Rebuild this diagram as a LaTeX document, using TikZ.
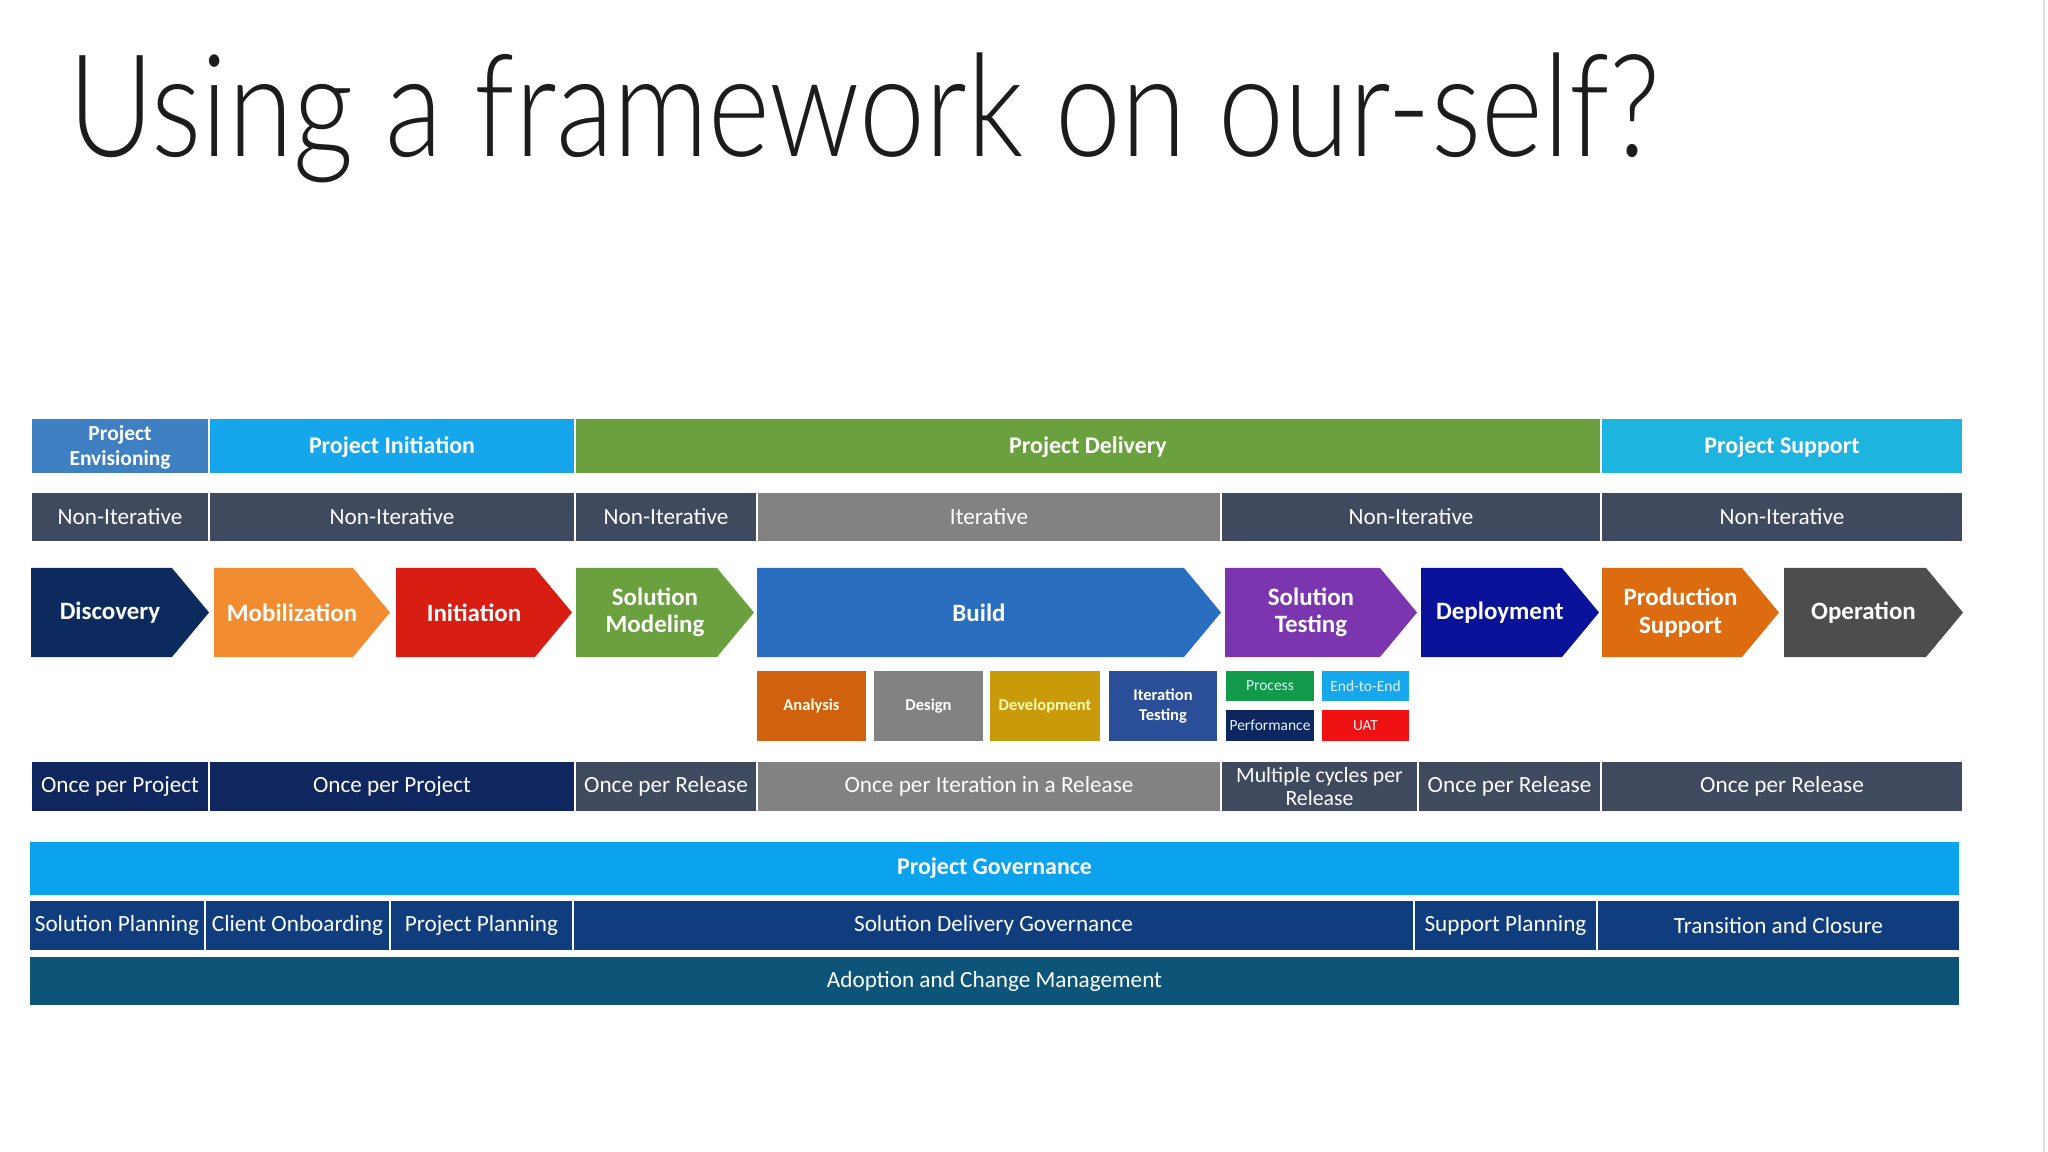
\documentclass[tikz,border=0pt]{standalone}
\usepackage{fontspec}
\setmainfont{Carlito}
\newfontfamily\titlefont{Lato Light}
\usepackage{tikz}
\usetikzlibrary{positioning}
\definecolor{TitleInk}  {HTML}{1C1C1C}
\definecolor{EnvBlue}   {HTML}{3F80C2}
\definecolor{InitBlue}  {HTML}{16A6EC}
\definecolor{DelGreen}  {HTML}{6AA13E}
\definecolor{SupCyan}   {HTML}{1EB4E0}
\definecolor{Slate}     {HTML}{3F4A5F}
\definecolor{IterGray}  {HTML}{828282}
\definecolor{DiscNavy}  {HTML}{0D2A5E}
\definecolor{MobOrange} {HTML}{F28C30}
\definecolor{InitRed}   {HTML}{D81E12}
\definecolor{BuildBlue} {HTML}{2A6FBF}
\definecolor{TestPurple}{HTML}{7A35AF}
\definecolor{DeplBlue}  {HTML}{0A1299}
\definecolor{ProdOrange}{HTML}{DD6B10}
\definecolor{OperGray}  {HTML}{4D4D4D}
\definecolor{AnaOrange} {HTML}{D0620F}
\definecolor{DevGold}   {HTML}{C99A0A}
\definecolor{ItTestBlue}{HTML}{2B4E98}
\definecolor{ProcGreen} {HTML}{129A4A}
\definecolor{EteBlue}   {HTML}{16A8EC}
\definecolor{PerfNavy}  {HTML}{0E2660}
\definecolor{UatRed}    {HTML}{F01212}
\definecolor{OnceNavy}  {HTML}{0F275E}
\definecolor{GovBlue}   {HTML}{0BA3EE}
\definecolor{GovRow}    {HTML}{0F3D7E}
\definecolor{AdoptTeal} {HTML}{0C5578}

\tikzset{
  cell/.style={draw=white, line width=0.6pt},
  bartext/.style={text=white, align=center, inner sep=0pt,
    font=\fontsize{6.6}{7.2}\selectfont},
  hdrtext/.style={bartext, font=\bfseries\fontsize{6.8}{7.4}\selectfont},
  steptext/.style={bartext, font=\bfseries\fontsize{7.1}{7.8}\selectfont},
  subtext/.style={bartext, font=\bfseries\fontsize{4.7}{5.6}\selectfont},
  tinytext/.style={bartext, font=\fontsize{4.4}{5}\selectfont},
}

\begin{document}
\begin{tikzpicture}[x=0.01cm, y=-0.01cm]
      \useasboundingbox (0,0) rectangle (2048,1152);
      \fill[white] (0,0) rectangle (2048,1152);
      \draw[gray!25, line width=0.8pt] (2044,0) -- (2044,1152);
      % ── title ────────────────────────────────────────────────────────────────
      \node[anchor=base west, inner sep=0pt, text=TitleInk] (title) at (68,157)
        {\resizebox*{452.6pt}{37pt}{\titlefont\fontsize{40}{48}\selectfont Using a framework on our-self?}};
      % ── phase header ─────────────────────────────────────────────────────────
      \fill[cell, fill=EnvBlue] (31,418) rectangle (209,474);
      \node[bartext, font=\bfseries\fontsize{6.1}{7.2}\selectfont] (penv)
        at (120,447) {Project\\Envisioning};
      \foreach \xa/\xb/\col/\txt/\nm in {209/575/InitBlue/Project Initiation/pini,
          575/1601/DelGreen/Project Delivery/pdel,
          1601/1963/SupCyan/Project Support/psup} {
        \fill[cell, fill=\col] (\xa,418) rectangle (\xb,474);
        \node[hdrtext] (\nm) at ({(\xa+\xb)/2},447) {\txt};
      }
      % ── iterative / non-iterative row ────────────────────────────────────────
      \foreach \xa/\xb/\col/\txt/\nm in {31/209/Slate/Non-Iterative/mode1,
          209/575/Slate/Non-Iterative/mode2, 575/757/Slate/Non-Iterative/mode3,
          757/1221/IterGray/Iterative/mode4, 1221/1601/Slate/Non-Iterative/mode5,
          1601/1963/Slate/Non-Iterative/mode6} {
        \fill[cell, fill=\col] (\xa,492) rectangle (\xb,542);
        \node[bartext] (\nm) at ({(\xa+\xb)/2},517) {\txt};
      }
      % ── phase chevrons ───────────────────────────────────────────────────────
      \foreach \xa/\xb/\col/\txt/\nm in {31/209/DiscNavy/Discovery/disc,
          214/390/MobOrange/Mobilization/mobi, 396/572/InitRed/Initiation/init,
          576/754/DelGreen/{Solution\\Modeling}/smod, 757/1221/BuildBlue/Build/build,
          1225/1417/TestPurple/{Solution\\Testing}/stest, 1421/1599/DeplBlue/Deployment/depl,
          1602/1779/ProdOrange/{Production\\Support}/prod, 1784/1963/OperGray/Operation/oper} {
        \fill[\col] (\xa,568) -- (\xb-37,568) -- (\xb,612.5) -- (\xb-37,657) -- (\xa,657) -- cycle;
        \node[steptext] (\nm) at ({(\xa+\xb)/2-10},612.5) {\txt};
      }
      % ── build activities ─────────────────────────────────────────────────────
      \foreach \xa/\xb/\col/\ink/\txt/\nm in {757/866/AnaOrange/white!92!yellow/Analysis/ana,
          874/983/IterGray/white/Design/dsgn, 990/1100/DevGold/white!70!yellow/Development/dev,
          1109/1217/ItTestBlue/white/{Iteration\\Testing}/ittest} {
        \fill[\col] (\xa,671) rectangle (\xb,741);
        \node[subtext, text=\ink] (\nm) at ({(\xa+\xb)/2},706) {\txt};
      }
      % ── testing types ────────────────────────────────────────────────────────
      \foreach \xa/\xb/\ya/\yb/\col/\txt/\nm in {1226/1314/671/701/ProcGreen/Process/proc,
          1322/1409/671/701/EteBlue/End-to-End/ete, 1226/1314/710/741/PerfNavy/Performance/perf,
          1322/1409/710/741/UatRed/UAT/uat} {
        \fill[\col] (\xa,\ya) rectangle (\xb,\yb);
        \node[tinytext, text=white!88!cyan] (\nm) at ({(\xa+\xb)/2},{(\ya+\yb)/2}) {\txt};
      }
      % ── frequency row ────────────────────────────────────────────────────────
      \foreach \xa/\xb/\col/\txt/\nm in {31/209/OnceNavy/Once per Project/freq1,
          209/575/OnceNavy/Once per Project/freq2, 575/757/Slate/Once per Release/freq3,
          757/1221/IterGray/Once per Iteration in a Release/freq4,
          1418/1601/Slate/Once per Release/freq6, 1601/1963/Slate/Once per Release/freq7} {
        \fill[cell, fill=\col] (\xa,761) rectangle (\xb,812);
        \node[bartext] (\nm) at ({(\xa+\xb)/2},786.5) {\txt};
      }
      \fill[cell, fill=Slate] (1221,761) rectangle (1418,812);
      \node[bartext, font=\fontsize{6.2}{6.7}\selectfont] (freq5)
        at (1319.5,786.5) {Multiple cycles per\\Release};
      % ── governance ───────────────────────────────────────────────────────────
      \fill[cell, fill=GovBlue] (29,841) rectangle (1960,896);
      \node[hdrtext] (gov) at (994.5,868.5) {Project Governance};
      \foreach \xa/\xb/\txt/\nm in {29/205/Solution Planning/gov1,
          205/390/Client Onboarding/gov2, 390/573/Project Planning/gov3,
          573/1414/Solution Delivery Governance/gov4, 1414/1597/Support Planning/gov5,
          1597/1960/Transition and Closure/gov6} {
        \fill[cell, fill=GovRow] (\xa,900) rectangle (\xb,951);
        \node[bartext] (\nm) at ({(\xa+\xb)/2},925.5) {\txt};
      }
      \fill[cell, fill=AdoptTeal] (29,956) rectangle (1960,1006);
      \node[bartext] (adopt) at (994.5,981) {Adoption and Change Management};
    \end{tikzpicture}
\end{document}
